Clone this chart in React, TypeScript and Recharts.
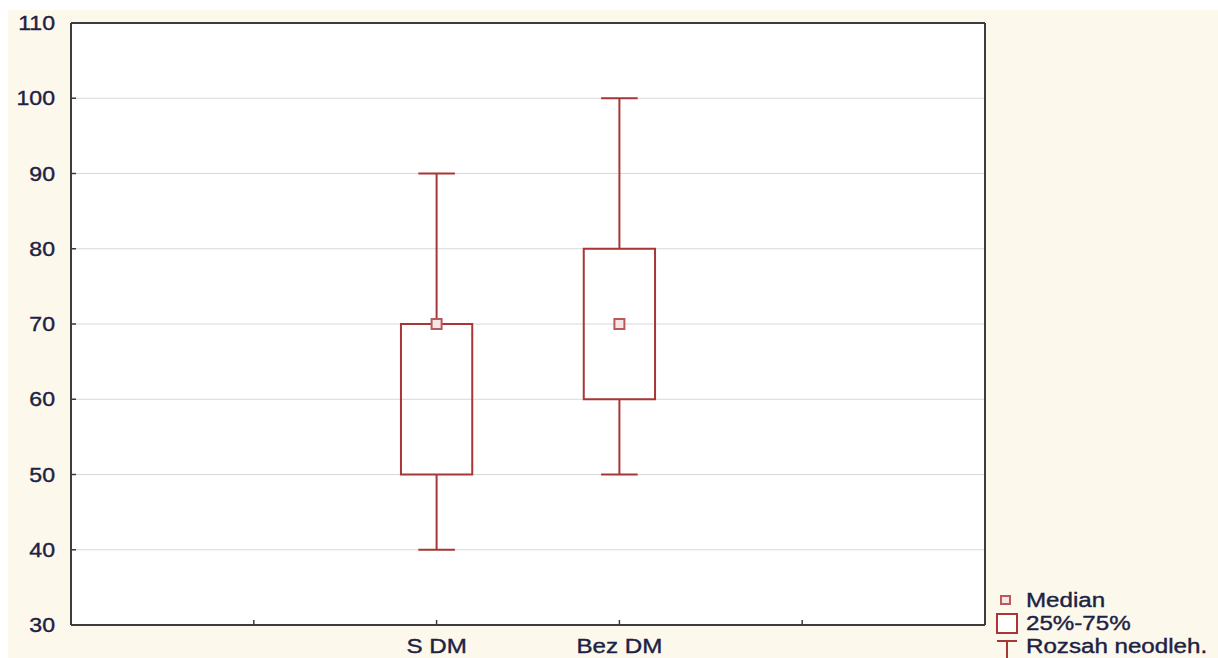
import React from 'react';
import {
  ComposedChart,
  XAxis,
  YAxis,
  CartesianGrid,
  Scatter,
  ReferenceArea,
  ReferenceLine,
} from 'recharts';

// box plot values
const categories = ['S DM', 'Bez DM'];
const positions = [2, 3];
const minValues = [40, 50];
const q1Values = [50, 60];
const medians = [70, 70];
const q3Values = [70, 80];
const maxValues = [90, 100];

const yTicks = [30, 40, 50, 60, 70, 80, 90, 100, 110];
const xTicks = [1, 2, 3, 4];
const legendLabels = ['Median', '25%-75%', 'Rozsah neodleh.'];

const BOX_COLOR = '#a93636';
const MEDIAN_COLOR = '#b85a5a';
const TEXT_COLOR = '#1d2244';
const AXIS_COLOR = '#3c3c3c';
const FONT = "'Liberation Sans', Arial, sans-serif";
const BOX_HALF = 0.195;
const CAP_HALF = 0.1;

const medianData = positions.map((p, i) => ({ x: p, y: medians[i] }));

const labelFor = (v: number) => {
  const i = positions.indexOf(v);
  return i >= 0 ? categories[i] : '';
};

const LeftTick = (props: any) => {
  const { x, y, payload } = props;
  return (
    <g>
      <line x1={x + 16} x2={x + 21} y1={y} y2={y} stroke={AXIS_COLOR} strokeWidth={1.5} />
      <text
        transform={`translate(${x},${y}) scale(1.1,1)`}
        textAnchor="end"
        dominantBaseline="central"
        fontFamily={FONT}
        fontSize={21}
        fill={TEXT_COLOR}
        stroke={TEXT_COLOR}
        strokeWidth={0.4}
      >
        {payload.value}
      </text>
    </g>
  );
};

const BottomTick = (props: any) => {
  const { x, y, payload } = props;
  return (
    <g>
      <line x1={x} x2={x} y1={y - 8} y2={y - 13} stroke={AXIS_COLOR} strokeWidth={1.5} />
      <text
        transform={`translate(${x},${y + 20}) scale(1.15,1)`}
        textAnchor="middle"
        fontFamily={FONT}
        fontSize={21}
        fill={TEXT_COLOR}
        stroke={TEXT_COLOR}
        strokeWidth={0.4}
      >
        {labelFor(payload.value)}
      </text>
    </g>
  );
};

const TopTick = (props: any) => {
  const { x, y } = props;
  return <line x1={x} x2={x} y1={y} y2={y + 6} stroke={AXIS_COLOR} strokeWidth={1.5} />;
};

const RightTick = (props: any) => {
  const { x, y } = props;
  return <line x1={x - 6} x2={x} y1={y} y2={y} stroke={AXIS_COLOR} strokeWidth={1.5} />;
};

const MedianMark = (props: any) => {
  const { cx, cy } = props;
  return (
    <rect x={cx - 5} y={cy - 5} width={10} height={10} fill="#f6e6e6" stroke={MEDIAN_COLOR} strokeWidth={2} />
  );
};

const Legend = () => (
  <svg width={1218} height={658} style={{ position: 'absolute', left: 0, top: 0, pointerEvents: 'none' }}>
    <rect x={1001} y={596} width={9} height={8} fill="#f6e6e6" stroke={MEDIAN_COLOR} strokeWidth={2} />
    <rect x={997} y={614} width={20} height={19} fill="#fff" stroke={BOX_COLOR} strokeWidth={2} />
    <line x1={997} x2={1017} y1={641} y2={641} stroke={BOX_COLOR} strokeWidth={2} />
    <line x1={1007} x2={1007} y1={641} y2={658} stroke={BOX_COLOR} strokeWidth={2} />
    {legendLabels.map((t, i) => (
      <text
        key={t}
        transform={`translate(1026,${607 + i * 23}) scale(1.15,1)`}
        fontFamily={FONT}
        fontSize={21}
        fill={TEXT_COLOR}
        stroke={TEXT_COLOR}
        strokeWidth={0.4}
      >
        {t}
      </text>
    ))}
  </svg>
);

export default function App() {
  return (
    <div style={{ position: 'absolute', left: 0, top: 0, width: 1218, height: 658, background: '#fff' }}>
      <div style={{ position: 'absolute', left: 8, top: 10, width: 1210, height: 648, background: '#fcf8ec' }} />
      <div style={{ position: 'absolute', left: 0, top: 0 }}>
        <ComposedChart width={1218} height={658} margin={{ top: 22, right: 232, bottom: 3, left: 11 }}>
          <CartesianGrid vertical={false} stroke="#d8d8d8" fill="#ffffff" />
          <XAxis
            type="number"
            dataKey="x"
            domain={[0, 5]}
            ticks={xTicks}
            interval={0}
            height={30}
            tickSize={0}
            tickMargin={8}
            tickLine={false}
            axisLine={{ stroke: AXIS_COLOR, strokeWidth: 2 }}
            tick={<BottomTick />}
          />
          <XAxis
            xAxisId="top"
            orientation="top"
            type="number"
            domain={[0, 5]}
            ticks={xTicks}
            interval={0}
            height={1}
            tickSize={0}
            tickMargin={0}
            tickLine={false}
            axisLine={{ stroke: AXIS_COLOR, strokeWidth: 2 }}
            tick={<TopTick />}
          />
          <YAxis
            type="number"
            domain={[30, 110]}
            ticks={yTicks}
            interval={0}
            width={60}
            tickSize={0}
            tickMargin={16}
            tickLine={false}
            axisLine={{ stroke: AXIS_COLOR, strokeWidth: 2 }}
            tick={<LeftTick />}
          />
          <YAxis
            yAxisId="right"
            orientation="right"
            type="number"
            domain={[30, 110]}
            ticks={yTicks}
            interval={0}
            width={1}
            tickSize={0}
            tickMargin={0}
            tickLine={false}
            axisLine={{ stroke: AXIS_COLOR, strokeWidth: 2 }}
            tick={<RightTick />}
          />
          {positions.map((p, i) => (
            <ReferenceArea
              key={`box-${i}`}
              x1={p - BOX_HALF}
              x2={p + BOX_HALF}
              y1={q1Values[i]}
              y2={q3Values[i]}
              fill="none"
              fillOpacity={0}
              stroke={BOX_COLOR}
              strokeWidth={2}
            />
          ))}
          {positions.map((p, i) => (
            <ReferenceLine
              key={`wu-${i}`}
              segment={[{ x: p, y: q3Values[i] }, { x: p, y: maxValues[i] }]}
              stroke={BOX_COLOR}
              strokeWidth={2}
            />
          ))}
          {positions.map((p, i) => (
            <ReferenceLine
              key={`wl-${i}`}
              segment={[{ x: p, y: minValues[i] }, { x: p, y: q1Values[i] }]}
              stroke={BOX_COLOR}
              strokeWidth={2}
            />
          ))}
          {positions.map((p, i) => (
            <ReferenceLine
              key={`cu-${i}`}
              segment={[{ x: p - CAP_HALF, y: maxValues[i] }, { x: p + CAP_HALF, y: maxValues[i] }]}
              stroke={BOX_COLOR}
              strokeWidth={2}
            />
          ))}
          {positions.map((p, i) => (
            <ReferenceLine
              key={`cl-${i}`}
              segment={[{ x: p - CAP_HALF, y: minValues[i] }, { x: p + CAP_HALF, y: minValues[i] }]}
              stroke={BOX_COLOR}
              strokeWidth={2}
            />
          ))}
          <Scatter data={medianData} dataKey="y" shape={<MedianMark />} isAnimationActive={false} />
        </ComposedChart>
      </div>
      <Legend />
    </div>
  );
}
